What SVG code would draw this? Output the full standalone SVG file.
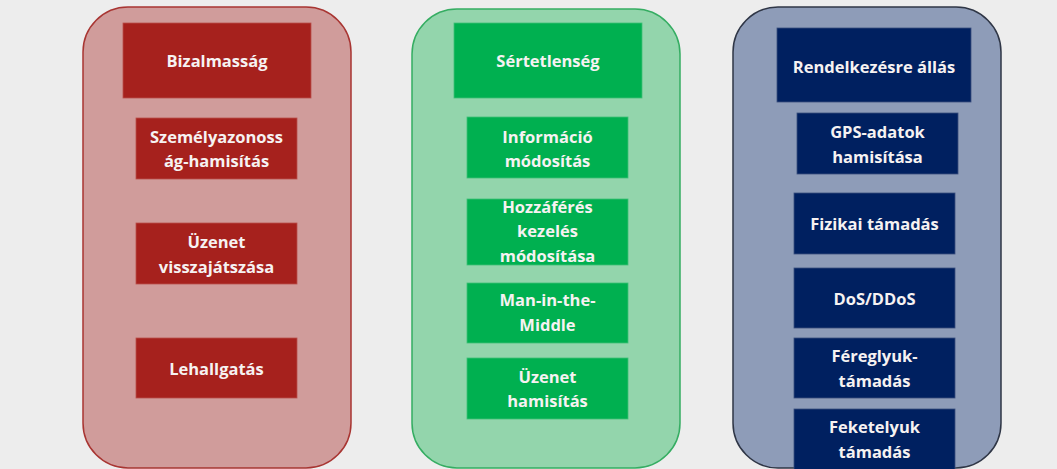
<svg xmlns="http://www.w3.org/2000/svg" width="1057" height="469" viewBox="0 0 1057 469">
<style>
.bg{fill:#ededed}
.cr{fill:#d09c9b;stroke:#a83532;stroke-width:1.5}
.cg{fill:#93d5ac;stroke:#35ad62;stroke-width:1.5}
.cb{fill:#8e9cb8;stroke:#2f3646;stroke-width:1.5}
.br{fill:#a6211d;stroke:#b9504c;stroke-width:0.8}
.bgn{fill:#00b050;stroke:#3fc177;stroke-width:0.8}
.bb{fill:#002060;stroke:#3a4f7e;stroke-width:0.8}
text{font-family:"Open Sans","Liberation Sans",sans-serif;font-weight:700;font-size:16.5px;fill:#f6f2f2;text-anchor:middle}
</style>
<rect class="bg" x="0" y="0" width="1057" height="469"/>
<g id="containers">
<rect id="col-red" class="cr" x="83" y="7" width="268" height="461" rx="45" ry="45"/>
<rect id="col-green" class="cg" x="412" y="9" width="268" height="459" rx="45" ry="45"/>
<rect id="col-blue" class="cb" x="733" y="7" width="268" height="461" rx="45" ry="45"/>
</g>
<g id="connectors"/>
<g id="n-bizalmassag"><rect class="br" x="123" y="23" width="188" height="75"/><text x="217" y="67">Bizalmasság</text></g>
<g id="n-szemelyazonossag"><rect class="br" x="136" y="118" width="161" height="61"/><text x="216.5" y="143">Személyazonoss</text><text x="216.5" y="166.5">ág-hamisítás</text></g>
<g id="n-uzenet-vissza"><rect class="br" x="136" y="223" width="161" height="61"/><text x="216.5" y="248">Üzenet</text><text x="216.5" y="272.5">visszajátszása</text></g>
<g id="n-lehallgatas"><rect class="br" x="136" y="338" width="161" height="60"/><text x="216.5" y="374.5">Lehallgatás</text></g>
<g id="n-sertetlenseg"><rect class="bgn" x="454" y="23" width="188" height="75"/><text x="548" y="67">Sértetlenség</text></g>
<g id="n-informacio"><rect class="bgn" x="467" y="117" width="161" height="61"/><text x="547.5" y="142.5">Információ</text><text x="547.5" y="166.5">módosítás</text></g>
<g id="n-hozzaferes"><rect class="bgn" x="467" y="199" width="161" height="66"/><text x="547.5" y="213">Hozzáférés</text><text x="547.5" y="237">kezelés</text><text x="547.5" y="262">módosítása</text></g>
<g id="n-mitm"><rect class="bgn" x="467" y="283" width="161" height="60"/><text x="547.5" y="306">Man-in-the-</text><text x="547.5" y="330.5">Middle</text></g>
<g id="n-uzenet-hamis"><rect class="bgn" x="467" y="358" width="161" height="61"/><text x="547.5" y="383">Üzenet</text><text x="547.5" y="407">hamisítás</text></g>
<g id="n-rendelkezesre"><rect class="bb" x="777" y="28" width="194" height="74"/><text x="874" y="72.5">Rendelkezésre állás</text></g>
<g id="n-gps"><rect class="bb" x="797" y="113" width="161" height="61"/><text x="877.5" y="138">GPS-adatok</text><text x="877.5" y="162.5">hamisítása</text></g>
<g id="n-fizikai"><rect class="bb" x="794" y="193" width="161" height="61"/><text x="874.5" y="230">Fizikai támadás</text></g>
<g id="n-dos"><rect class="bb" x="794" y="268" width="161" height="60"/><text x="874.5" y="305">DoS/DDoS</text></g>
<g id="n-fereglyuk"><rect class="bb" x="794" y="338" width="161" height="60"/><text x="874.5" y="361.5">Féreglyuk-</text><text x="874.5" y="386.5">támadás</text></g>
<g id="n-feketelyuk"><rect class="bb" x="794" y="409" width="161" height="64"/><text x="874.5" y="433">Feketelyuk</text><text x="874.5" y="458">támadás</text></g>
</svg>
